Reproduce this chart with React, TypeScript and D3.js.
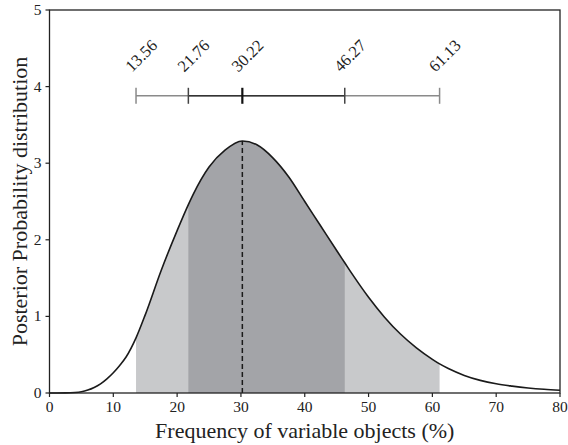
import React from "react";
import * as d3 from "d3";

const xs = [0, 2.5, 4, 5, 6, 7, 8, 9, 10, 11, 12, 13.56, 15, 17.5, 20, 21.76, 22.5, 25, 27.5, 30.22, 32.5, 35, 37.5, 40, 42.5, 45, 46.27, 47.5, 50, 52.5, 55, 57.5, 60, 61.13, 62.5, 65, 67.5, 70, 72.5, 75, 77.5, 80];
const ys = [0, 0.001, 0.006, 0.016, 0.038, 0.072, 0.12, 0.185, 0.265, 0.36, 0.47, 0.72, 1.02, 1.6, 2.12, 2.46, 2.59, 2.95, 3.17, 3.29, 3.24, 3.07, 2.82, 2.5, 2.18, 1.86, 1.70, 1.545, 1.25, 0.99, 0.77, 0.59, 0.44, 0.38, 0.32, 0.23, 0.165, 0.12, 0.09, 0.066, 0.048, 0.035];

const intervalOuter = [13.56, 61.13];
const intervalInner = [21.76, 46.27];
const modeValue = 30.22;
const modeDensity = 3.29;
const barLevel = 3.88;
const barLabels = [13.56, 21.76, 30.22, 46.27, 61.13];

const xTicks = [0, 10, 20, 30, 40, 50, 60, 70, 80];
const yTicks = [0, 1, 2, 3, 4, 5];

const W = 568, H = 445;
const M = { left: 49.5, right: 560, top: 10, bottom: 393 };
const FONT = "'Liberation Serif', 'DejaVu Serif', serif";

export default function App() {
  const x = d3.scaleLinear().domain([0, 80]).range([M.left, M.right]);
  const y = d3.scaleLinear().domain([0, 5]).range([M.bottom, M.top]);
  const pts = xs.map((v, i) => [v, ys[i]] as [number, number]);
  const line = d3.line<[number, number]>().x(d => x(d[0])).y(d => y(d[1])).curve(d3.curveMonotoneX);
  const area = d3.area<[number, number]>().x(d => x(d[0])).y0(y(0)).y1(d => y(d[1])).curve(d3.curveMonotoneX);
  const by = y(barLevel);

  return (
    <svg width={W} height={H} style={{ position: "absolute", left: 0, top: 0, background: "#fff" }} fontFamily={FONT}>
      <defs>
        <clipPath id="outer">
          <rect x={x(intervalOuter[0])} y={0} width={x(intervalOuter[1]) - x(intervalOuter[0])} height={H} />
        </clipPath>
        <clipPath id="inner">
          <rect x={x(intervalInner[0])} y={0} width={x(intervalInner[1]) - x(intervalInner[0])} height={H} />
        </clipPath>
      </defs>
      <path d={area(pts) || ""} fill="#c8c9cb" clipPath="url(#outer)" />
      <path d={area(pts) || ""} fill="#a3a4a8" clipPath="url(#inner)" />
      <line x1={x(modeValue)} x2={x(modeValue)} y1={y(0)} y2={y(modeDensity)} stroke="#1a1a1a" strokeWidth={1.5} strokeDasharray="5,3" />
      <path d={line(pts) || ""} fill="none" stroke="#1a1a1a" strokeWidth={1.6} />

      {/* interval bar */}
      <line x1={x(intervalOuter[0])} x2={x(intervalOuter[1])} y1={by} y2={by} stroke="#8a8a8a" strokeWidth={1.5} />
      <line x1={x(intervalInner[0])} x2={x(intervalInner[1])} y1={by} y2={by} stroke="#333" strokeWidth={1.5} />
      {barLabels.map((v, i) => {
        const isMode = v === modeValue;
        const isInner = v === intervalInner[0] || v === intervalInner[1];
        return (
          <line key={"bt" + i} x1={x(v)} x2={x(v)} y1={by - 8} y2={by + 8}
            stroke={isMode ? "#111" : isInner ? "#444" : "#8a8a8a"} strokeWidth={isMode ? 2.2 : 1.5} />
        );
      })}
      {barLabels.map((v, i) => (
        <text key={"bl" + i} transform={`translate(${x(v) - 4},${by - 23}) rotate(-45)`} fontSize={16.5} fill="#222">
          {v.toFixed(2)}
        </text>
      ))}

      {/* frame */}
      <rect x={M.left} y={M.top} width={M.right - M.left} height={M.bottom - M.top} fill="none" stroke="#222" strokeWidth={1.3} />
      {xTicks.map(t => (
        <g key={"xt" + t}>
          <line x1={x(t)} x2={x(t)} y1={M.bottom} y2={M.bottom + 4} stroke="#222" strokeWidth={1.2} />
          <text x={x(t)} y={M.bottom + 19} textAnchor="middle" fontSize={15.5} fill="#222">{t}</text>
        </g>
      ))}
      {yTicks.map(t => (
        <g key={"yt" + t}>
          <line x1={M.left - 4} x2={M.left} y1={y(t)} y2={y(t)} stroke="#222" strokeWidth={1.2} />
          <text x={M.left - 8} y={y(t) + 5} textAnchor="end" fontSize={15.5} fill="#222">{t}</text>
        </g>
      ))}
      <text x={(M.left + M.right) / 2} y={438} textAnchor="middle" fontSize={22} fill="#222">Frequency of variable objects (%)</text>
      <text transform={`translate(27,${(M.top + M.bottom) / 2}) rotate(-90)`} textAnchor="middle" fontSize={22} fill="#222">Posterior Probability distribution</text>
    </svg>
  );
}
